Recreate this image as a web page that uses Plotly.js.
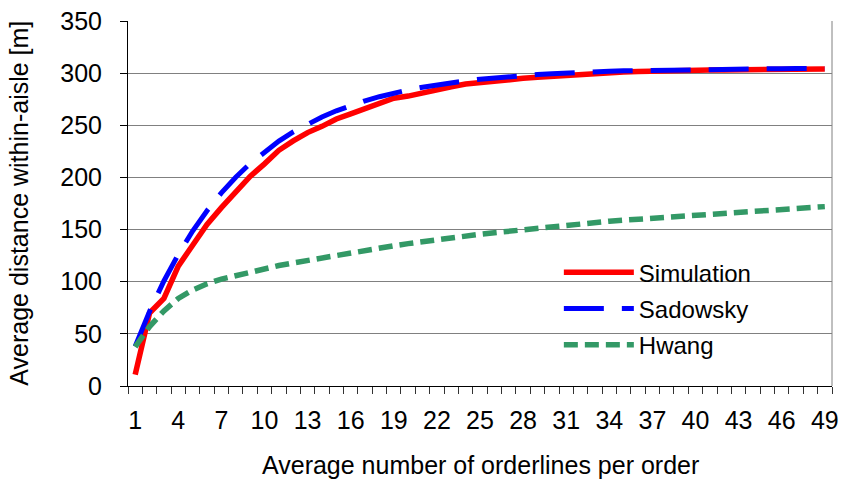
<!DOCTYPE html>
<html><head><meta charset="utf-8">
<script src="https://cdn.plot.ly/plotly-3.0.1.min.js"></script>
<style>html,body{margin:0;padding:0;background:#fff}#chart{width:841px;height:480px}</style>
</head><body><div id="chart"></div>
<script>
const orderlines = [1,2,3,4,5,6,7,8,9,10,11,12,13,14,15,16,17,18,19,20,21,22,23,24,25,26,27,28,29,30,31,32,33,34,35,36,37,38,39,40,41,42,43,44,45,46,47,48,49];
const simulation = [11,70,84,115,135,155,171,186,201,213,226,235,243,249,256,261,266,271,276,278,281,285,287,289.5,291,293,294,295,296,297,298,299,299.5,300,301,301.5,302,302,302.5,302.5,303,303,303,303.5,303.5,303.5,304,304,304];
const sadowsky = [38,71.5,100.7,126.2,148.6,168.1,185.2,200.2,213.3,224.8,234.8,243.6,251.3,258,263.9,269,273.5,277.4,280.9,283.9,286.5,288.8,290.8,292.6,294.2,295.5,296.7,297.7,298.7,299.4,300.2,300.8,301.3,301.7,302.2,302.5,302.8,303.1,303.3,303.5,303.7,303.9,304,304.1,304.2,304.3,304.4,304.5,304.5];
const hwang = [37.5,57,72,84,92,98,102.5,106,109.5,112.5,115.5,118,120.5,123,125.5,128,130,132.5,134.5,136.5,138.5,140.5,142,144,145.5,147,148.5,150,151.5,153,154,155.5,156.5,158,159,160,161,162,163,164,165,166,167,168,169,170,170.5,171.5,172];
const seriesNames = ["Simulation","Sadowsky","Hwang"];
const xTickVals = [1,4,7,10,13,16,19,22,25,28,31,34,37,40,43,46,49];
const yTickVals = [0,50,100,150,200,250,300,350];
const xTitle = "Average number of orderlines per order";
const yTitle = "Average distance within-aisle [m]";

const FONT = "Liberation Sans, Arial, sans-serif";
const traces = [
  {x: orderlines, y: simulation, name: seriesNames[0], mode: "lines", legendgroup: "a",
   line: {color: "#FF0000", width: 5.5}},
  {x: orderlines, y: sadowsky, name: seriesNames[1], mode: "lines", legendgroup: "b",
   line: {color: "#0000FF", width: 5, dash: "40px,18px"}},
  {x: orderlines, y: hwang, name: seriesNames[2], mode: "lines", legendgroup: "c",
   line: {color: "#339966", width: 5.5, dash: "14px,7px"}}
];
const layout = {
  width: 841, height: 480,
  margin: {l: 128, r: 9, t: 21, b: 94},
  paper_bgcolor: "#fff", plot_bgcolor: "#fff",
  font: {family: FONT, size: 25, color: "#000"},
  showlegend: true,
  legend: {x: 0.612, y: 0.372, xanchor: "left", yanchor: "top", bgcolor: "rgba(0,0,0,0)",
           font: {family: FONT, size: 24, color: "#000"}, itemwidth: 70,
           traceorder: "grouped", tracegroupgap: 2},
  xaxis: {range: [0.5, 49.5], tickmode: "array", tickvals: xTickVals, ticks: "",
          showgrid: false, zeroline: false, showline: true, linecolor: "#000", linewidth: 1,
          tickfont: {family: FONT, size: 25, color: "#000"}, ticklabelstandoff: 12,
          minor: {tickmode: "linear", tick0: 0.5, dtick: 1, ticks: "outside", ticklen: 7,
                  tickcolor: "#333", tickwidth: 1, showgrid: false}},
  yaxis: {range: [0, 350], tickmode: "array", tickvals: yTickVals, ticks: "outside", ticklen: 7,
          tickcolor: "#000", showgrid: true, gridcolor: "#808080", gridwidth: 1,
          zeroline: false, showline: true, linecolor: "#000", linewidth: 1,
          tickfont: {family: FONT, size: 25, color: "#000"}, ticklabelstandoff: 13},
  shapes: [
    {type: "line", xref: "paper", yref: "paper", x0: 1, x1: 1, y0: 0, y1: 1,
     line: {color: "#808080", width: 1}},
    {type: "rect", xref: "paper", yref: "paper", x0: 0.574, x1: 0.9276, y0: 0.03, y1: 0.4,
     fillcolor: "#fff", line: {width: 0}, layer: "between"}
  ],
  annotations: [
    {text: yTitle, xref: "paper", yref: "paper", x: -0.156, y: 0.5, xanchor: "center", yanchor: "middle",
     textangle: -90, showarrow: false, font: {family: FONT, size: 25, color: "#000"}},
    {text: xTitle, xref: "paper", yref: "paper", x: 0.5, y: -0.216, xanchor: "center", yanchor: "middle",
     showarrow: false, font: {family: FONT, size: 25, color: "#000"}}
  ]
};
Plotly.newPlot("chart", traces, layout, {displayModeBar: false, staticPlot: true});
</script>
</body></html>
